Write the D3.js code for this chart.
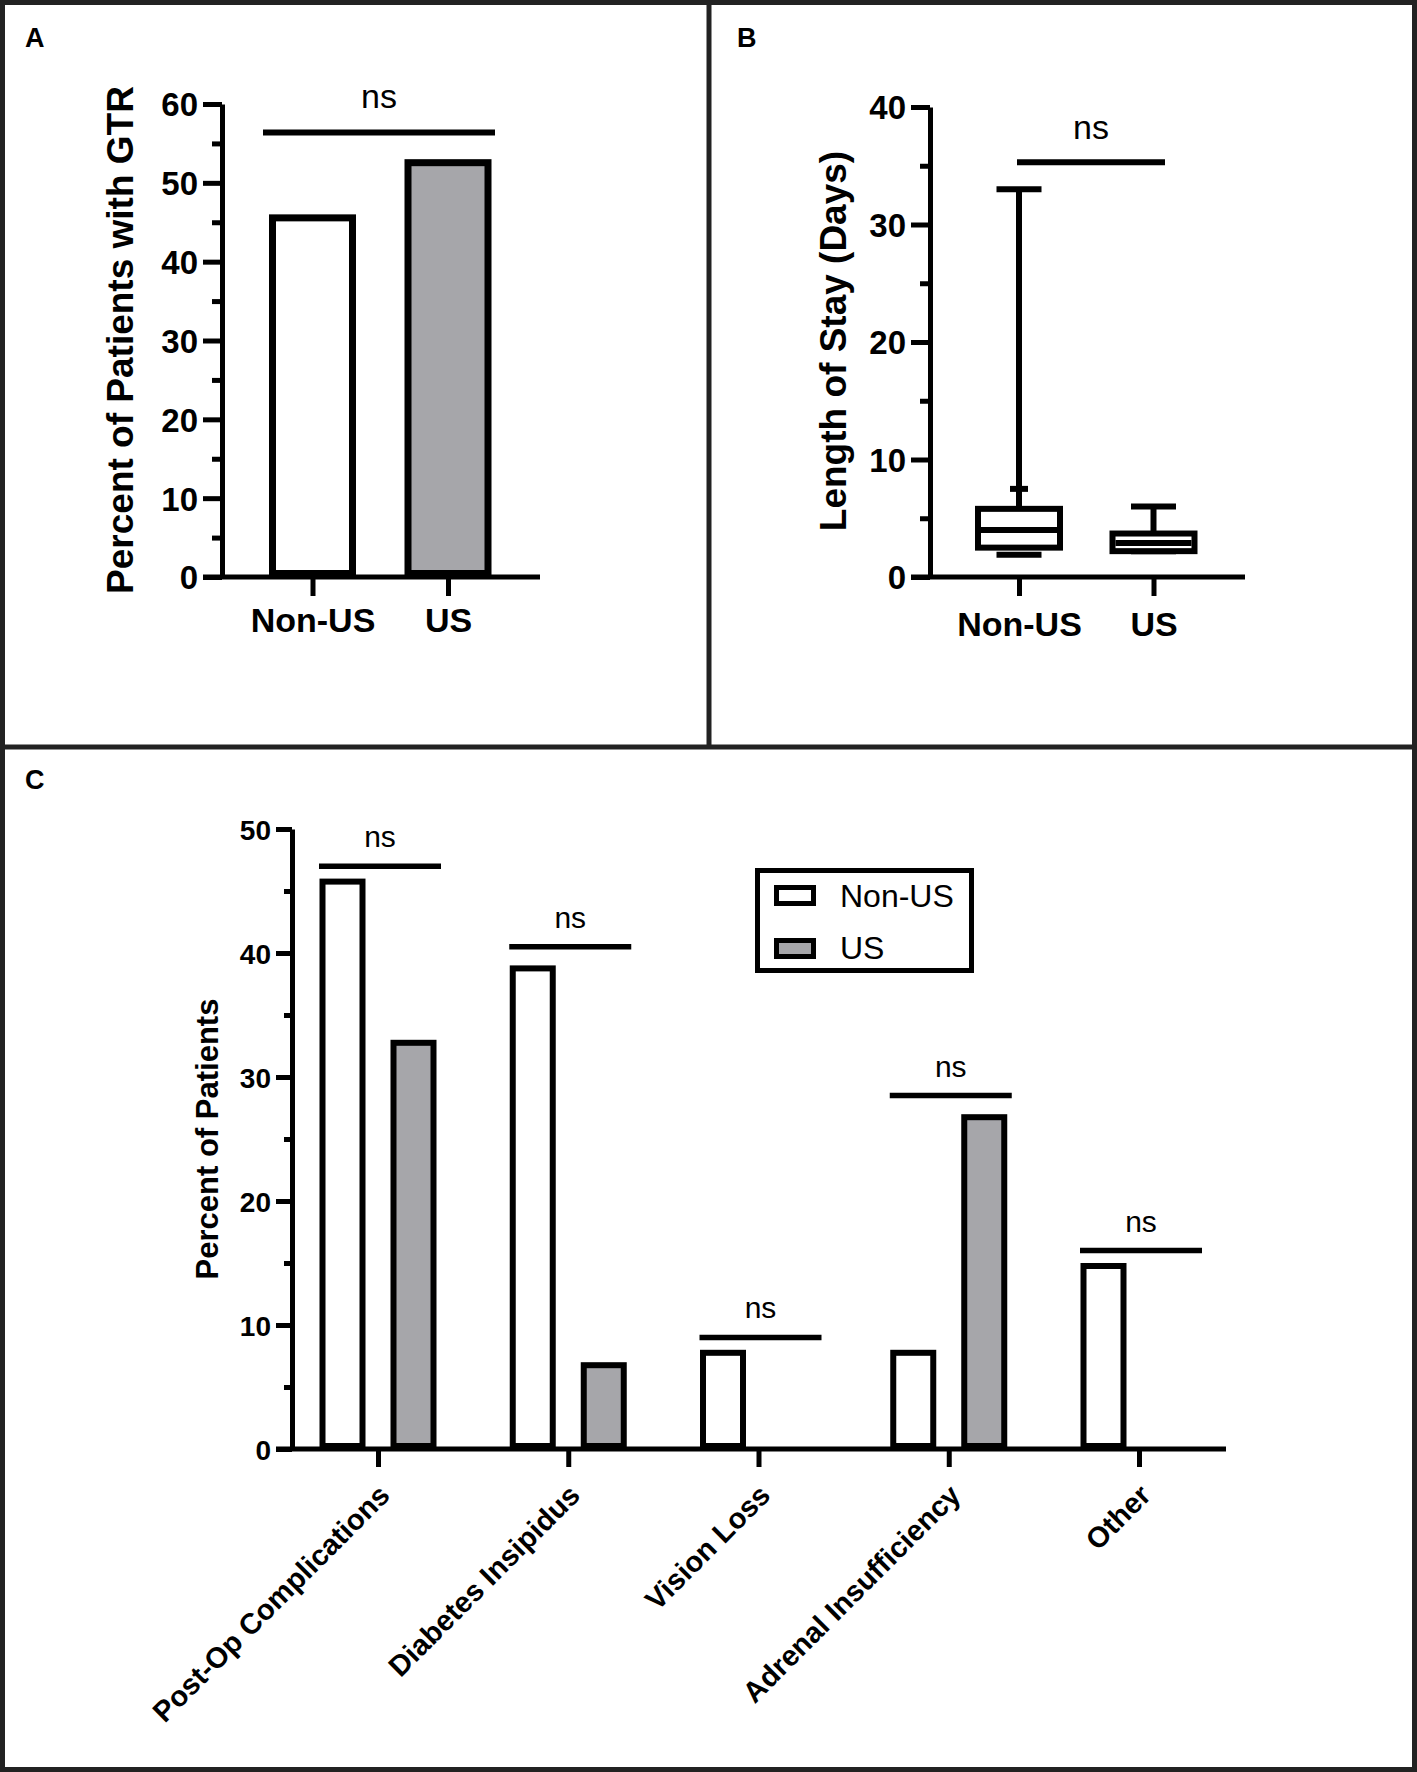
<!DOCTYPE html>
<html lang="en">
<head>
  <meta charset="UTF-8" />
  <title>GTR, length of stay and complications</title>
  <script src="https://cdn.jsdelivr.net/npm/d3@7"></script>
  <style>
    body { margin: 0; background: #fff; }
    svg text { font-family: "Liberation Sans", Arial, sans-serif; fill: #000; }
  </style>
</head>
<body>
<svg id="fig" width="1417" height="1772"></svg>
<script>
// ---- data ----
var groups = ["Non-US", "US"];

// panel A: percent of patients with GTR
var gtrPercent = [46, 53];
var gtrTicks = [0, 10, 20, 30, 40, 50, 60];
var gtrSig = 56.4;

// panel B: length of stay (days), box plot
var losMin = [1.9, 2.2];
var losQ1 = [2.5, 2.2];
var losMedian = [4, 2.9];
var losQ3 = [5.8, 3.7];
var losMax = [33, 6];
var losExtra = [7.5, null];   // small mark on the Non-US whisker
var losTicks = [0, 10, 20, 30, 40];
var losSig = 35.3;

// panel C: complications
var complications = ["Post-Op Complications", "Diabetes Insipidus", "Vision Loss", "Adrenal Insufficiency", "Other"];
var nonUsPercent = [46, 39, 8, 8, 15];
var usPercent = [33, 7, 0, 27, 0];
var compSig = [47, 40.5, 9, 28.5, 16];
var compTicks = [0, 10, 20, 30, 40, 50];

var grey = "#a6a6aa";
var svg = d3.select("#fig");

// frame
svg.append("rect").attr("x", 2.5).attr("y", 2.5).attr("width", 1412).attr("height", 1767)
  .attr("fill", "none").attr("stroke", "#222").attr("stroke-width", 5);
svg.append("line").attr("x1", 709).attr("x2", 709).attr("y1", 0).attr("y2", 747)
  .attr("stroke", "#222").attr("stroke-width", 5);
svg.append("line").attr("x1", 0).attr("x2", 1417).attr("y1", 747).attr("y2", 747)
  .attr("stroke", "#222").attr("stroke-width", 5);

function panelLetter(t, x, y) {
  svg.append("text").attr("x", x).attr("y", y).attr("font-size", 27)
    .attr("font-weight", "bold").text(t);
}
panelLetter("A", 25, 47);
panelLetter("B", 737, 47);
panelLetter("C", 25, 789);

// y axis with major + minor ticks
function yAxis(scale, ticks, x, fontSize, majorLen, minorLen, sw) {
  var g = svg.append("g").attr("transform", "translate(" + x + ",0)");
  var minors = [];
  for (var i = 0; i < ticks.length - 1; i++) minors.push((ticks[i] + ticks[i + 1]) / 2);
  g.append("g").call(d3.axisLeft(scale).tickValues(minors).tickSize(minorLen).tickSizeOuter(0).tickFormat(""))
    .call(function(s) { s.select(".domain").remove(); });
  g.append("g").call(d3.axisLeft(scale).tickValues(ticks).tickSize(majorLen).tickSizeOuter(0).tickPadding(5))
    .attr("font-size", fontSize).attr("font-weight", "bold").attr("font-family", null);
  g.selectAll("line").attr("stroke", "#000").attr("stroke-width", sw);
  g.selectAll(".domain").attr("stroke", "#000").attr("stroke-width", sw);
  g.selectAll("text").attr("dy", "0.36em");
  return g;
}

function yLabel(t, x, y, size) {
  svg.append("text").attr("transform", "translate(" + x + "," + y + ") rotate(-90)")
    .attr("text-anchor", "middle").attr("font-size", size).attr("font-weight", "bold").text(t);
}

function sigBar(x1, x2, y, sw, fontSize, gap) {
  svg.append("line").attr("x1", x1).attr("x2", x2).attr("y1", y).attr("y2", y)
    .attr("stroke", "#000").attr("stroke-width", sw);
  svg.append("text").attr("x", (x1 + x2) / 2).attr("y", y - gap).attr("text-anchor", "middle")
    .attr("font-size", fontSize).text("ns");
}

// ---------------- panel A ----------------
(function() {
  var y = d3.scaleLinear().domain([0, 60]).range([577, 104]);
  var x = d3.scalePoint().domain(groups).range([312.5, 448]);
  var bw = 87, sw = 7;

  svg.append("g").selectAll("rect").data(gtrPercent).enter().append("rect")
    .attr("x", function(d, i) { return x(groups[i]) - bw / 2 + sw / 2; })
    .attr("y", function(d) { return y(d) + sw / 2; })
    .attr("width", bw - sw)
    .attr("height", function(d) { return y(0) - y(d) - sw; })
    .attr("fill", function(d, i) { return i === 0 ? "#fff" : grey; })
    .attr("stroke", "#000").attr("stroke-width", sw);

  yAxis(y, gtrTicks, 222, 33, 19, 10, 5);

  var gx = svg.append("g").attr("transform", "translate(0," + y(0) + ")")
    .call(d3.axisBottom(x).tickSize(19).tickSizeOuter(0).tickPadding(12));
  gx.select(".domain").remove();
  gx.append("line").attr("x1", 203).attr("x2", 540).attr("stroke", "#000").attr("stroke-width", 5);
  gx.selectAll(".tick line").attr("stroke", "#000").attr("stroke-width", 5);
  gx.selectAll("text").attr("font-size", 34).attr("font-weight", "bold").attr("font-family", null);

  yLabel("Percent of Patients with GTR", 133, 340, 37);
  sigBar(263, 495, y(gtrSig), 6, 34, 24);
})();

// ---------------- panel B ----------------
(function() {
  var y = d3.scaleLinear().domain([0, 40]).range([577, 107]);
  var x = d3.scalePoint().domain(groups).range([1019, 1153.5]);
  var bw = 88, sw = 6, capW = 45;

  var g = svg.append("g");
  groups.forEach(function(k, i) {
    var cx = x(k);
    // whiskers and caps
    g.append("line").attr("x1", cx).attr("x2", cx).attr("y1", y(losQ3[i])).attr("y2", y(losMax[i]))
      .attr("stroke", "#000").attr("stroke-width", sw);
    g.append("line").attr("x1", cx - capW / 2).attr("x2", cx + capW / 2)
      .attr("y1", y(losMax[i])).attr("y2", y(losMax[i])).attr("stroke", "#000").attr("stroke-width", sw);
    g.append("line").attr("x1", cx - capW / 2).attr("x2", cx + capW / 2)
      .attr("y1", y(losMin[i])).attr("y2", y(losMin[i])).attr("stroke", "#000").attr("stroke-width", sw);
    if (losExtra[i] !== null) {
      g.append("line").attr("x1", cx - 9).attr("x2", cx + 9)
        .attr("y1", y(losExtra[i])).attr("y2", y(losExtra[i])).attr("stroke", "#000").attr("stroke-width", sw);
    }
    // box + median
    g.append("rect").attr("x", cx - bw / 2 + sw / 2).attr("width", bw - sw)
      .attr("y", y(losQ3[i])).attr("height", y(losQ1[i]) - y(losQ3[i]))
      .attr("fill", "#fff").attr("stroke", "#000").attr("stroke-width", sw);
    g.append("line").attr("x1", cx - bw / 2 + sw).attr("x2", cx + bw / 2 - sw)
      .attr("y1", y(losMedian[i])).attr("y2", y(losMedian[i])).attr("stroke", "#000").attr("stroke-width", sw);
  });

  yAxis(y, losTicks, 930, 33, 19, 10, 5);

  var gx = svg.append("g").attr("transform", "translate(0," + y(0) + ")")
    .call(d3.axisBottom(x).tickSize(19).tickSizeOuter(0).tickPadding(16));
  gx.select(".domain").remove();
  gx.append("line").attr("x1", 911).attr("x2", 1245).attr("stroke", "#000").attr("stroke-width", 5);
  gx.selectAll(".tick line").attr("stroke", "#000").attr("stroke-width", 5);
  gx.selectAll("text").attr("font-size", 34).attr("font-weight", "bold").attr("font-family", null);

  yLabel("Length of Stay (Days)", 846, 341, 37);
  sigBar(1017, 1165, y(losSig), 6, 34, 23);
})();

// ---------------- panel C ----------------
(function() {
  var y = d3.scaleLinear().domain([0, 50]).range([1449, 829]);
  var x = d3.scalePoint().domain(complications).range([378, 1139]);
  var off = 35.5, bw = 46, sw = 6;

  var series = [
    { name: "Non-US", values: nonUsPercent, fill: "#fff", dx: -off },
    { name: "US", values: usPercent, fill: grey, dx: off }
  ];

  series.forEach(function(s) {
    svg.append("g").selectAll("rect").data(s.values).enter().append("rect")
      .attr("x", function(d, i) { return x(complications[i]) + s.dx - bw / 2 + sw / 2; })
      .attr("y", function(d) { return y(d) + sw / 2; })
      .attr("width", bw - sw)
      .attr("height", function(d) { return Math.max(0, y(0) - y(d) - sw); })
      .attr("fill", s.fill).attr("stroke", "#000").attr("stroke-width", sw)
      .style("display", function(d) { return d > 0 ? null : "none"; });
  });

  compSig.forEach(function(v, i) {
    var cx = x(complications[i]);
    sigBar(cx - 59, cx + 63, y(v), 5.5, 30, 19);
  });

  yAxis(y, compTicks, 292, 28, 16, 8, 5);

  var gx = svg.append("g").attr("transform", "translate(0," + y(0) + ")")
    .call(d3.axisBottom(x).tickSize(18).tickSizeOuter(0));
  gx.select(".domain").remove();
  gx.append("line").attr("x1", 276).attr("x2", 1226).attr("stroke", "#000").attr("stroke-width", 5);
  gx.selectAll(".tick line").attr("stroke", "#000").attr("stroke-width", 5);
  gx.selectAll("text").attr("font-size", 29).attr("font-weight", "bold").attr("font-family", null)
    .attr("text-anchor", "end").attr("dy", null)
    .attr("x", 13).attr("y", 48)
    .attr("transform", "rotate(-45,13,48)");

  yLabel("Percent of Patients", 218, 1139, 31);

  // legend
  var lg = svg.append("g").attr("transform", "translate(755,868)");
  lg.append("rect").attr("x", 2.5).attr("y", 2.5).attr("width", 214).attr("height", 100)
    .attr("fill", "#fff").attr("stroke", "#000").attr("stroke-width", 5);
  series.forEach(function(s, i) {
    lg.append("rect").attr("x", 21.5).attr("y", 19.5 + i * 53).attr("width", 37).attr("height", 16)
      .attr("fill", s.fill).attr("stroke", "#000").attr("stroke-width", 5);
    lg.append("text").attr("x", 85).attr("y", 39 + i * 52).attr("font-size", 32).text(s.name);
  });
})();
</script>
</body>
</html>
